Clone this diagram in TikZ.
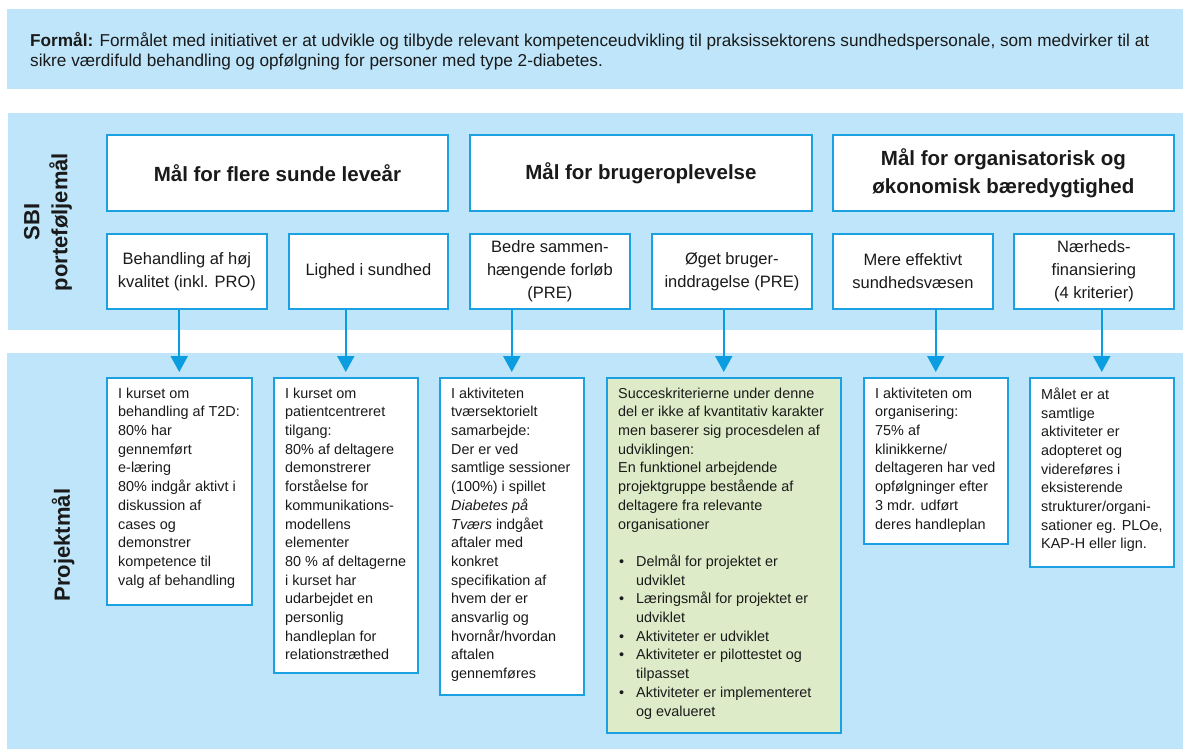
\documentclass[tikz,border=0pt]{standalone}
\usepackage{fontspec}
\setmainfont{Liberation Sans}
\usetikzlibrary{arrows.meta}
\definecolor{bandblue}{HTML}{BEE5F9}
\definecolor{lineblue}{HTML}{1BA0E2}
\definecolor{arrowblue}{HTML}{0A9DE0}
\definecolor{greenfill}{HTML}{DDEBC8}
\definecolor{ink}{HTML}{1A1A1A}
\begin{document}
\begin{tikzpicture}[x=1pt,y=-1pt,
  hdr/.style={draw=lineblue, fill=white, line width=1.8pt, inner sep=0pt, anchor=north west,
    minimum height=76pt, font=\fontsize{20.5}{28}\selectfont\bfseries, align=center, text=ink},
  sub/.style={draw=lineblue, fill=white, line width=1.8pt, inner sep=0pt, anchor=north west,
    minimum width=160pt, minimum height=75pt, font=\fontsize{16.5}{23}\selectfont, align=center, text=ink},
  goalbox/.style={draw=lineblue, fill=white, line width=1.5pt, inner sep=0pt, anchor=north west},
  goaltxt/.style={anchor=north west, inner sep=0pt, align=left,
    font=\fontsize{14.4}{18.7}\selectfont, text=ink},
  conn/.style={draw=arrowblue, line width=2pt, -{Triangle[width=17pt,length=16pt]}, shorten >=5pt},
  side/.style={rotate=90, font=\fontsize{22}{28}\selectfont\bfseries, align=center, text=ink}
]
\useasboundingbox (0,0) rectangle (1183,753);
% background bands
\fill[bandblue] (7,9) rectangle (1183,89);
\fill[bandblue] (8,113) rectangle (1183,330);
\fill[bandblue] (7,353) rectangle (1183,749);

% purpose text
\node[anchor=west, align=left, inner sep=0pt, font=\fontsize{17.2}{19.5}\selectfont, text=ink] (purpose) at (30,51)
  {\textbf{Formål:} Formålet med initiativet er at udvikle og tilbyde relevant kompetenceudvikling til praksissektorens sundhedspersonale, som medvirker til at\\
   sikre værdifuld behandling og opfølgning for personer med type 2-diabetes.};

% side labels
\node[side] (sbi) at (48,222) {SBI\\porteføljemål};
\node[side] (proj) at (63,545) {Projektmål};

% header boxes
\node[hdr, minimum width=341pt] (h1) at (106,134) {Mål for flere sunde leveår};
\node[hdr, minimum width=342pt] (h2) at (469,134) {Mål for brugeroplevelse};
\node[hdr, minimum width=341pt] (h3) at (832,134) {Mål for organisatorisk og\\økonomisk bæredygtighed};

% SBI sub goals
\node[sub] (s1) at (106,233) {Behandling af høj\\kvalitet (inkl. PRO)};
\node[sub, minimum width=159pt] (s2) at (288,233) {Lighed i sundhed};
\node[sub] (s3) at (469,233) {Bedre sammen-\\hængende forløb\\(PRE)};
\node[sub] (s4) at (651,233) {Øget bruger-\\inddragelse (PRE)};
\node[sub] (s5) at (832,233) {Mere effektivt\\sundhedsvæsen};
\node[sub] (s6) at (1013,233) {Nærheds-\\finansiering\\(4 kriterier)};

% project goal boxes
\node[goalbox, minimum width=145pt, minimum height=227pt] (g1) at (106,377) {};
\node[goalbox, minimum width=144pt, minimum height=295pt] (g2) at (273,377) {};
\node[goalbox, minimum width=144pt, minimum height=317pt] (g3) at (439,377) {};
\node[goalbox, minimum width=234pt, minimum height=355pt, fill=greenfill] (g4) at (606,377) {};
\node[goalbox, minimum width=144pt, minimum height=166pt] (g5) at (863,377) {};
\node[goalbox, minimum width=144pt, minimum height=189pt] (g6) at (1029,377) {};

\node[goaltxt] (t1) at ([shift={(12,10.5)}]g1.north west)
  {I kurset om\\behandling af T2D:\\80\% har\\gennemført\\e-læring\\80\% indgår aktivt i\\diskussion af\\cases og\\demonstrer\\kompetence til\\valg af behandling};
\node[goaltxt] (t2) at ([shift={(12,10.5)}]g2.north west)
  {I kurset om\\patientcentreret\\tilgang:\\80\% af deltagere\\demonstrerer\\forståelse for\\kommunikations-\\modellens\\elementer\\80 \% af deltagerne\\i kurset har\\udarbejdet en\\personlig\\handleplan for\\relationstræthed};
\node[goaltxt] (t3) at ([shift={(12,10.5)}]g3.north west)
  {I aktiviteten\\tværsektorielt\\samarbejde:\\Der er ved\\samtlige sessioner\\(100\%) i spillet\\\textit{Diabetes på}\\\textit{Tværs} indgået\\aftaler med\\konkret\\specifikation af\\hvem der er\\ansvarlig og\\hvornår/hvordan\\aftalen\\gennemføres};
\node[goaltxt] (t4) at ([shift={(12,10.5)}]g4.north west)
  {Succeskriterierne under denne\\del er ikke af kvantitativ karakter\\men baserer sig procesdelen af\\udviklingen:\\En funktionel arbejdende\\projektgruppe bestående af\\deltagere fra relevante\\organisationer\\\mbox{}\\
   \makebox[18pt][l]{\hspace{1pt}\textbullet}Delmål for projektet er\\\hspace*{18pt}udviklet\\
   \makebox[18pt][l]{\hspace{1pt}\textbullet}Læringsmål for projektet er\\\hspace*{18pt}udviklet\\
   \makebox[18pt][l]{\hspace{1pt}\textbullet}Aktiviteter er udviklet\\
   \makebox[18pt][l]{\hspace{1pt}\textbullet}Aktiviteter er pilottestet og\\\hspace*{18pt}tilpasset\\
   \makebox[18pt][l]{\hspace{1pt}\textbullet}Aktiviteter er implementeret\\\hspace*{18pt}og evalueret};
\node[goaltxt] (t5) at ([shift={(12,10.5)}]g5.north west)
  {I aktiviteten om\\organisering:\\75\% af\\klinikkerne/\\deltageren har ved\\opfølgninger efter\\3 mdr. udført\\deres handleplan};
\node[goaltxt] (t6) at ([shift={(12,10.5)}]g6.north west)
  {Målet er at\\samtlige\\aktiviteter er\\adopteret og\\videreføres i\\eksisterende\\strukturer/organi-\\sationer eg. PLOe,\\KAP-H eller lign.};

% connectors
\draw[conn] (s1.south -| g1.north) -- (g1.north);
\draw[conn] (s2.south -| g2.north) -- (g2.north);
\draw[conn] (s3.south -| g3.north) -- (g3.north);
\draw[conn] (s4.south -| g4.north) -- (g4.north);
\draw[conn] (s5.south -| g5.north) -- (g5.north);
\draw[conn] (s6.south -| g6.north) -- (g6.north);
\end{tikzpicture}
\end{document}
